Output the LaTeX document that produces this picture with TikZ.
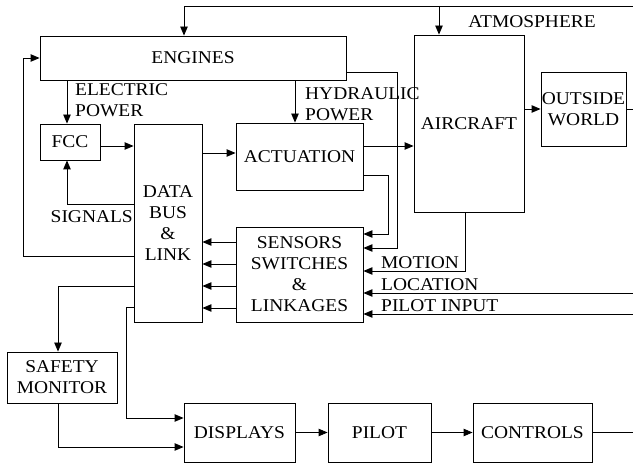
\documentclass[tikz,border=0pt]{standalone}
\usepackage{fontspec}
\setmainfont{Liberation Serif}[FakeStretch=1.08]
\usetikzlibrary{arrows.meta}
\tikzset{
  box/.style={draw, line width=0.9pt, inner sep=0pt, align=center, font=\fontsize{18}{21}\selectfont},
  lbl/.style={inner sep=0pt, align=left, font=\fontsize{18}{21}\selectfont},
  ln/.style={line width=0.9pt},
  arr/.style={line width=0.9pt, -{Triangle[length=9pt,width=7.5pt]}},
}
\begin{document}
\begin{tikzpicture}[x=1pt,y=-1pt]
\useasboundingbox (0,0) rectangle (633,465);
% boxes
\node[box, minimum width=306, minimum height=44] (eng) at (193,58) {ENGINES};
\node[box, minimum width=60, minimum height=36] (fcc) at (70,142) {FCC};
\node[box, minimum width=68, minimum height=198] (bus) at (168,223) {DATA\\BUS\\\&\\LINK};
\node[box, minimum width=127, minimum height=67] (act) at (299.5,156.5) {ACTUATION};
\node[box, minimum width=127, minimum height=95] (sen) at (299.5,274.5) {SENSORS\\SWITCHES\\\&\\LINKAGES};
\node[box, minimum width=110, minimum height=177] (air) at (469,123.5) {AIRCRAFT};
\node[box, minimum width=85, minimum height=74] (out) at (583.5,109) {OUTSIDE\\WORLD};
\node[box, minimum width=110, minimum height=51] (saf) at (62,377.5) {SAFETY\\MONITOR};
\node[box, minimum width=111, minimum height=59] (dis) at (239.5,432.5) {DISPLAYS};
\node[box, minimum width=103, minimum height=59] (pil) at (379.5,432.5) {PILOT};
\node[box, minimum width=119, minimum height=59] (con) at (532.5,432.5) {CONTROLS};
% helper coordinates
\coordinate (atm) at (633,6);
\coordinate (xt) at (184,0);
\coordinate (xa) at (439,0);
\coordinate (xe) at (67,0);
\coordinate (xh) at (295,0);
\coordinate (xl) at (23,0);
\coordinate (xs) at (58,0);
\coordinate (xd) at (126,0);
\coordinate (xk) at (397,0);
\coordinate (xj) at (388,0);
\coordinate (xm) at (465,0);
\foreach \v in {72,146,153,175,204,234,242,248,256,264,271,286,293,307,308,314,418,447}
  {\coordinate (y\v) at (0,\v);}
% labels
\node[lbl] (atml) at (532,22) {ATMOSPHERE};
\node[lbl, anchor=west] (epl) at (75,100.5) {ELECTRIC\\POWER};
\node[lbl, anchor=west] (hpl) at (305,104) {HYDRAULIC\\POWER};
\node[lbl, anchor=east] (sgl) at (133,217) {SIGNALS};
\node[lbl, anchor=west] (mol) at (381,263) {MOTION};
\node[lbl, anchor=west] (lol) at (381,285) {LOCATION};
\node[lbl, anchor=west] (pil2) at (381,306) {PILOT INPUT};
% connectors
\draw[arr] (atm) -- (atm -| xt) -- (eng.north -| xt);
\draw[arr] (atm -| xa) -- (air.north -| xa);
\draw[arr] (eng.south -| xe) -- (fcc.north -| xe);
\draw[arr] (eng.south -| xh) -- (act.north -| xh);
\draw[arr] (fcc.east |- y146) -- (bus.west |- y146);
\draw[arr] (bus.east |- y153) -- (act.west |- y153);
\draw[arr] (act.east |- y146) -- (air.west |- y146);
\draw[arr] (out.west -| air.east) -- (out.west);
\draw[ln] (out.east) -- (out.east -| atm);
\draw[arr] (eng.east |- y72) -- (xk |- y72) -- (xk |- y248) -- (sen.east |- y248);
\draw[arr] (act.east |- y175) -- (xj |- y175) -- (xj |- y234) -- (sen.east |- y234);
\draw[arr] (air.south -| xm) -- (xm |- y271) -- (sen.east |- y271);
\draw[arr] (atm |- y293) -- (sen.east |- y293);
\draw[arr] (atm |- y314) -- (sen.east |- y314);
\foreach \v in {242,264,286,308}
  {\draw[arr] (sen.west |- y\v) -- (bus.east |- y\v);}
\draw[arr] (bus.west |- y204) -- (xe |- y204) -- (fcc.south -| xe);
\draw[arr] (bus.west |- y256) -- (xl |- y256) -- (xl |- eng.west) -- (eng.west);
\draw[arr] (bus.west |- y286) -- (xs |- y286) -- (saf.north -| xs);
\draw[arr] (bus.west |- y307) -- (xd |- y307) -- (xd |- y418) -- (dis.west |- y418);
\draw[arr] (saf.south -| xs) -- (xs |- y447) -- (dis.west |- y447);
\draw[arr] (dis.east) -- (pil.west);
\draw[arr] (pil.east) -- (con.west);
\draw[ln] (con.east) -- (con.east -| atm);
\end{tikzpicture}
\end{document}
